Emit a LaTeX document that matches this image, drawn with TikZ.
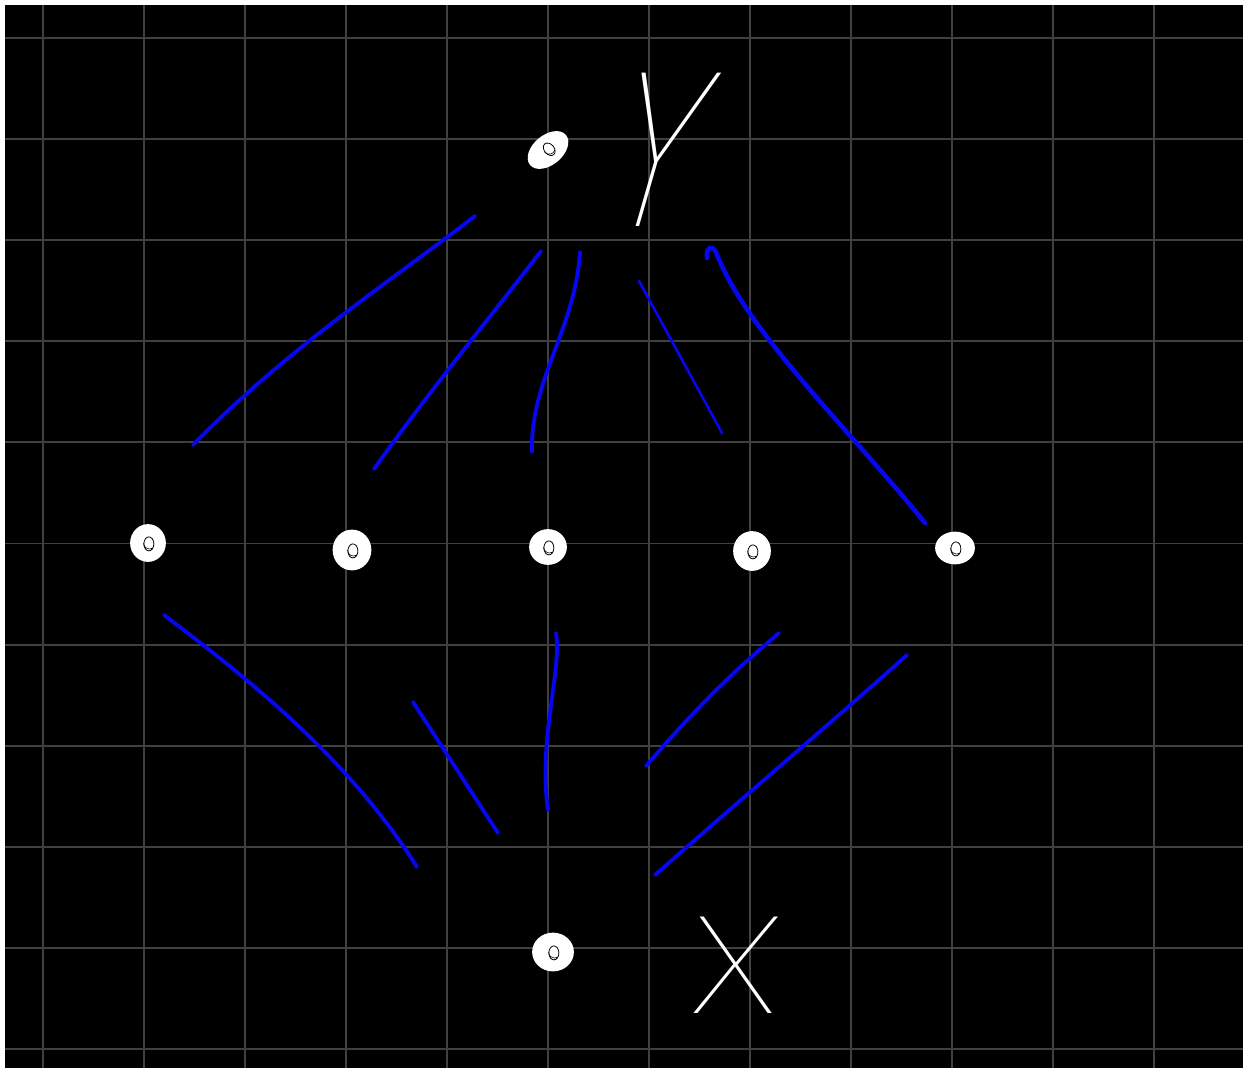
\documentclass[tikz,border=0pt]{standalone}
\usepackage{fontspec}
\newfontfamily\handfont{Poppins Thin}
\usetikzlibrary{shapes.geometric}
\definecolor{BoardBlack}{RGB}{0,0,0}
\definecolor{GridGray}{RGB}{64,64,64}
\definecolor{PenBlue}{RGB}{6,6,240}
\tikzset{
  element node/.style={
    ellipse,
    draw=white,
    fill=white,
    line width=1pt,
    minimum width=0.68cm,
    minimum height=0.72cm,
    inner sep=0pt,
    path picture={
      \draw[black,line width=0.45pt]
        ([xshift=0.5pt,yshift=-0.5pt]path picture bounding box.center) ellipse (0.1cm and 0.14cm);
      \draw[black,line width=0.35pt]
        ([xshift=-2.5pt]path picture bounding box.center) arc (180:300:0.12cm);
    },
  },
  grid line/.style={GridGray,line width=1.1pt},
  cover edge/.style={PenBlue,line width=2.2pt,line cap=round},
  set label/.style={text=white,inner sep=0pt,anchor=base},
}

\begin{document}
\begin{tikzpicture}[x=0.02cm,y=-0.02cm]

\useasboundingbox (0,0) rectangle (1243,1068);
\fill[white] (0,0) rectangle (1243,1068);
\fill[BoardBlack] (5,5) rectangle (1243,1068);

% Board grid.
\foreach \gx in {0,...,11}
  \draw[grid line] ({43+101*\gx},5) -- ({43+101*\gx},1068);
\foreach \gy in {0,...,10}
  \draw[grid line] (5,{38+101.1*\gy}) -- (1243,{38+101.1*\gy});

% Elements of the lattice.
\node[element node,minimum width=0.9cm,minimum height=0.56cm,rotate=40] (top) at (548,150) {};
\node[element node] (m1) at (148,543) {};
\node[element node,minimum width=0.74cm,minimum height=0.78cm] (m2) at (352,550) {};
\node[element node,minimum width=0.72cm,minimum height=0.68cm] (m3) at (548,547) {};
\node[element node,minimum width=0.72cm,minimum height=0.76cm] (m4) at (752,551) {};
\node[element node,minimum width=0.76cm,minimum height=0.62cm] (m5) at (955,548) {};
\node[element node,minimum width=0.8cm,minimum height=0.74cm] (bot) at (553,952) {};

\node[set label,font=\handfont\fontsize{124}{124}\selectfont,xscale=0.8,xslant=0.36] (ylab) at (638,226) {Y};
\node[set label,font=\handfont\fontsize{78}{78}\selectfont,xscale=1.3,xslant=0.05] (xlab) at (733,1013) {X};

% Strokes from the top element.
\coordinate (a1) at (475,216); \coordinate (b1) at (193,445);
\coordinate (a2) at (541,251); \coordinate (b2) at (374,469);
\coordinate (a3) at (580,252); \coordinate (b3) at (532,452);
\coordinate (a4) at (639,281); \coordinate (b4) at (722,433);
\coordinate (a5) at (707,258); \coordinate (h5) at (716,252); \coordinate (b5) at (925,523);

\draw[cover edge] (a1) .. controls (395,278) and (285,350) .. (b1);
\draw[cover edge] (a2) .. controls (500,305) and (430,390) .. (b2);
\draw[cover edge] (a3) .. controls (575,330) and (530,380) .. (b3);
\draw[cover edge,line width=1.5pt] (a4) -- (b4);
\draw[cover edge,line width=2.6pt] (a5) .. controls (706,247) and (712,245) .. (h5)
  .. controls (745,330) and (850,430) .. (b5);

% Strokes into the bottom element.
\coordinate (c1) at (164,615); \coordinate (d1) at (417,867);
\coordinate (c2) at (413,702); \coordinate (d2) at (498,833);
\coordinate (c3) at (556,633); \coordinate (d3) at (548,810);
\coordinate (c4) at (779,633); \coordinate (d4) at (646,766);
\coordinate (c5) at (907,655); \coordinate (d5) at (655,875);

\draw[cover edge] (c1) .. controls (250,680) and (350,760) .. (d1);
\draw[cover edge] (c2) -- (d2);
\draw[cover edge] (c3) .. controls (562,670) and (538,740) .. (d3);
\draw[cover edge] (c4) .. controls (760,650) and (720,680) .. (d4);
\draw[cover edge] (c5) .. controls (840,715) and (740,800) .. (d5);

\end{tikzpicture}
\end{document}
